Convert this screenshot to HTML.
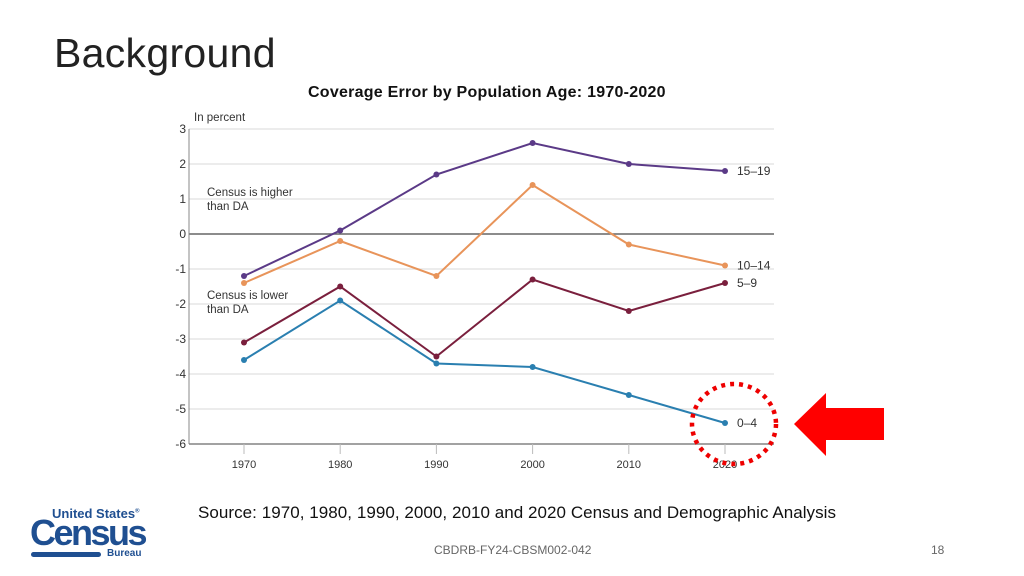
<!DOCTYPE html>
<html><head><meta charset="utf-8"><style>
body{margin:0;width:1024px;height:576px;background:#fff;overflow:hidden;font-family:"Liberation Sans",sans-serif;position:relative}
.t{position:absolute;white-space:nowrap}
</style></head><body>
<div class="t" style="left:54px;top:30px;font-size:41px;color:#222;letter-spacing:0.3px">Background</div>
<div class="t" style="left:308px;top:84px;font-size:16px;font-weight:bold;color:#111;letter-spacing:0.25px">Coverage Error by Population Age: 1970-2020</div>
<svg class="t" style="left:0;top:0" width="1024" height="576" id="c"></svg>
<div class="t" style="left:198px;top:503px;font-size:17px;color:#111;letter-spacing:0.05px">Source: 1970, 1980, 1990, 2000, 2010 and 2020 Census and Demographic Analysis</div>
<div class="t" style="left:434px;top:543px;font-size:12px;color:#666">CBDRB-FY24-CBSM002-042</div>
<div class="t" style="left:931px;top:543px;font-size:12px;color:#666">18</div>
<div class="t" style="left:30px;top:506px;width:120px;height:55px;color:#1f4f91">
 <div style="position:absolute;left:22px;top:0;font-size:13px;font-weight:bold">United States<sup style="font-size:6px">®</sup></div>
 <div style="position:absolute;left:0;top:6px;font-size:36px;font-weight:bold;letter-spacing:-2.5px">Census</div>
 <div style="position:absolute;left:1px;top:46px;width:70px;height:5px;background:#1f4f91;border-radius:3px"></div>
 <div style="position:absolute;left:77px;top:42px;font-size:10px;font-weight:bold">Bureau</div>
</div>
<script>
const years=[1970,1980,1990,2000,2010,2020];
const yTicks=[3,2,1,0,-1,-2,-3,-4,-5,-6];
const s15_19=[-1.2,0.1,1.7,2.6,2.0,1.8];
const s10_14=[-1.4,-0.2,-1.2,1.4,-0.3,-0.9];
const s5_9=[-3.1,-1.5,-3.5,-1.3,-2.2,-1.4];
const s0_4=[-3.6,-1.9,-3.7,-3.8,-4.6,-5.4];
const NS='http://www.w3.org/2000/svg';
const svg=document.getElementById('c');
const X=y=>244+(y-1970)*(725-244)/50;
const Y=v=>234-v*35;
function el(t,a,p){const e=document.createElementNS(NS,t);for(const k in a)e.setAttribute(k,a[k]);(p||svg).appendChild(e);return e;}
yTicks.forEach(v=>{
 const l=el('line',{x1:189,x2:774,y1:Y(v),y2:Y(v),stroke:v===0?'#666':'#e6e6e6','stroke-width':1.5});
 
 
 const t=el('text',{x:186,y:Y(v)+4,'text-anchor':'end','font-size':12,fill:'#333','font-family':'Liberation Sans'});
 t.textContent=v;
 
 
});
el('line',{x1:189,x2:189,y1:Y(3),y2:Y(-6),stroke:'#888','stroke-width':1});
el('line',{x1:189,x2:774,y1:Y(-6),y2:Y(-6),stroke:'#888','stroke-width':1.5});
years.forEach(yr=>{
 el('line',{x1:X(yr),x2:X(yr),y1:Y(-6),y2:Y(-6)+10,stroke:'#bbb'});
 const t=el('text',{x:X(yr),y:468,'text-anchor':'middle','font-size':11,fill:'#333','font-family':'Liberation Sans'});
 t.textContent=yr;
 
 
});
function txt(x,y,s,n){const t=el('text',{x:x,y:y,'font-size':11.5,fill:'#333','font-family':'Liberation Sans'});t.textContent=s;}
txt(194,121,'In percent','y-axis-title');
txt(207,196,'Census is higher','annotation-higher');txt(207,210,'than DA','annotation-higher-2');
txt(207,299,'Census is lower','annotation-lower');txt(207,313,'than DA','annotation-lower-2');
const series=[[s15_19,'#5b3a87','15–19','series-15-19'],[s10_14,'#e8945a','10–14','series-10-14'],[s5_9,'#7a1f3d','5–9','series-5-9'],[s0_4,'#2a7fb0','0–4','series-0-4']];
series.forEach(([d,c,lab,n])=>{
 const p=el('polyline',{points:d.map((v,i)=>X(years[i])+','+Y(v)).join(' '),fill:'none',stroke:c,'stroke-width':2});
 
 
 d.forEach((v,i)=>{const m=el('circle',{cx:X(years[i]),cy:Y(v),r:3,fill:c});
  
  });
 const t=el('text',{x:737,y:Y(d[5])+4,'font-size':12,fill:'#333','font-family':'Liberation Sans'});
 t.textContent=lab;
 
 
});
const circ=el('ellipse',{cx:734,cy:424,rx:42,ry:40,fill:'none',stroke:'#e00','stroke-width':4.5,'stroke-dasharray':'4 5'});


const arr=el('polygon',{points:'794,424 826,393 826,408 884,408 884,440 826,440 826,456',fill:'#f00'});


</script>
</body></html>
